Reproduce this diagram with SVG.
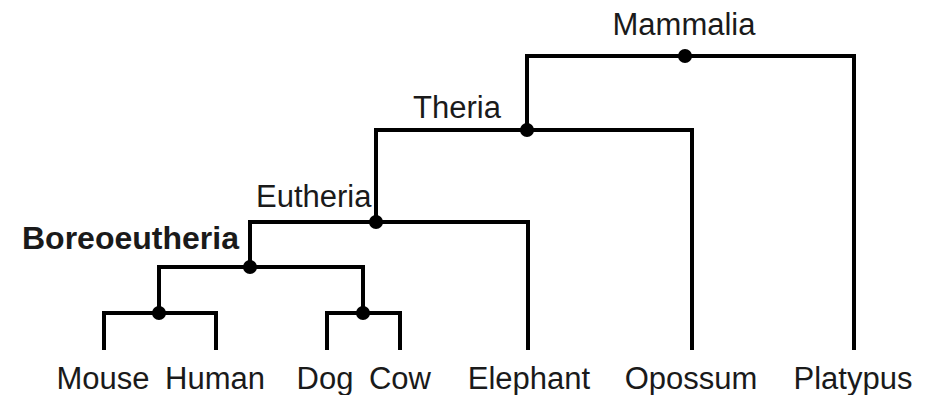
<svg xmlns="http://www.w3.org/2000/svg" width="933" height="395" viewBox="0 0 933 395">
  <style>
    .branch { fill: none; stroke: #000; stroke-width: 4; stroke-linejoin: miter; stroke-linecap: butt; }
    .dot { fill: #000; }
    .label { font-family: "Liberation Sans", Arial, sans-serif; font-size: 31px; fill: #1a1a1a; }
    .clade { font-family: "Liberation Sans", Arial, sans-serif; font-size: 31px; fill: #1a1a1a; }
    .bold { font-weight: bold; font-size: 32px; }
  </style>
  <rect width="933" height="395" fill="#fff"/>

  <!-- tree branches -->
  <g id="connectors">
    <path class="branch" d="M104,350 V313 H216 V350"/>
    <path class="branch" d="M327,350 V313 H400 V350"/>
    <path class="branch" d="M159,313 V267 H363 V313"/>
    <path class="branch" d="M250,267 V222 H528 V350"/>
    <path class="branch" d="M376,222 V130 H692 V350"/>
    <path class="branch" d="M527,130 V56 H854 V350"/>
  </g>

  <!-- internal nodes -->
  <g id="node-mouse-human"><circle class="dot" cx="159" cy="313" r="7"/></g>
  <g id="node-dog-cow"><circle class="dot" cx="363" cy="313" r="7"/></g>
  <g id="node-boreoeutheria">
    <circle class="dot" cx="250" cy="267" r="7"/>
    <text class="clade bold" x="22" y="249">Boreoeutheria</text>
  </g>
  <g id="node-eutheria">
    <circle class="dot" cx="376" cy="222" r="7"/>
    <text class="clade" x="256" y="207">Eutheria</text>
  </g>
  <g id="node-theria">
    <circle class="dot" cx="527" cy="130" r="7"/>
    <text class="clade" x="413" y="118">Theria</text>
  </g>
  <g id="node-mammalia">
    <circle class="dot" cx="685" cy="56" r="7"/>
    <text class="clade" x="684" y="35" text-anchor="middle">Mammalia</text>
  </g>

  <!-- leaves -->
  <g id="leaf-mouse"><text class="label" x="103" y="389" text-anchor="middle">Mouse</text></g>
  <g id="leaf-human"><text class="label" x="215" y="389" text-anchor="middle">Human</text></g>
  <g id="leaf-dog"><text class="label" x="325" y="389" text-anchor="middle">Dog</text></g>
  <g id="leaf-cow"><text class="label" x="400" y="389" text-anchor="middle">Cow</text></g>
  <g id="leaf-elephant"><text class="label" x="529" y="389" text-anchor="middle">Elephant</text></g>
  <g id="leaf-opossum"><text class="label" x="691" y="389" text-anchor="middle">Opossum</text></g>
  <g id="leaf-platypus"><text class="label" x="853" y="389" text-anchor="middle">Platypus</text></g>
</svg>
